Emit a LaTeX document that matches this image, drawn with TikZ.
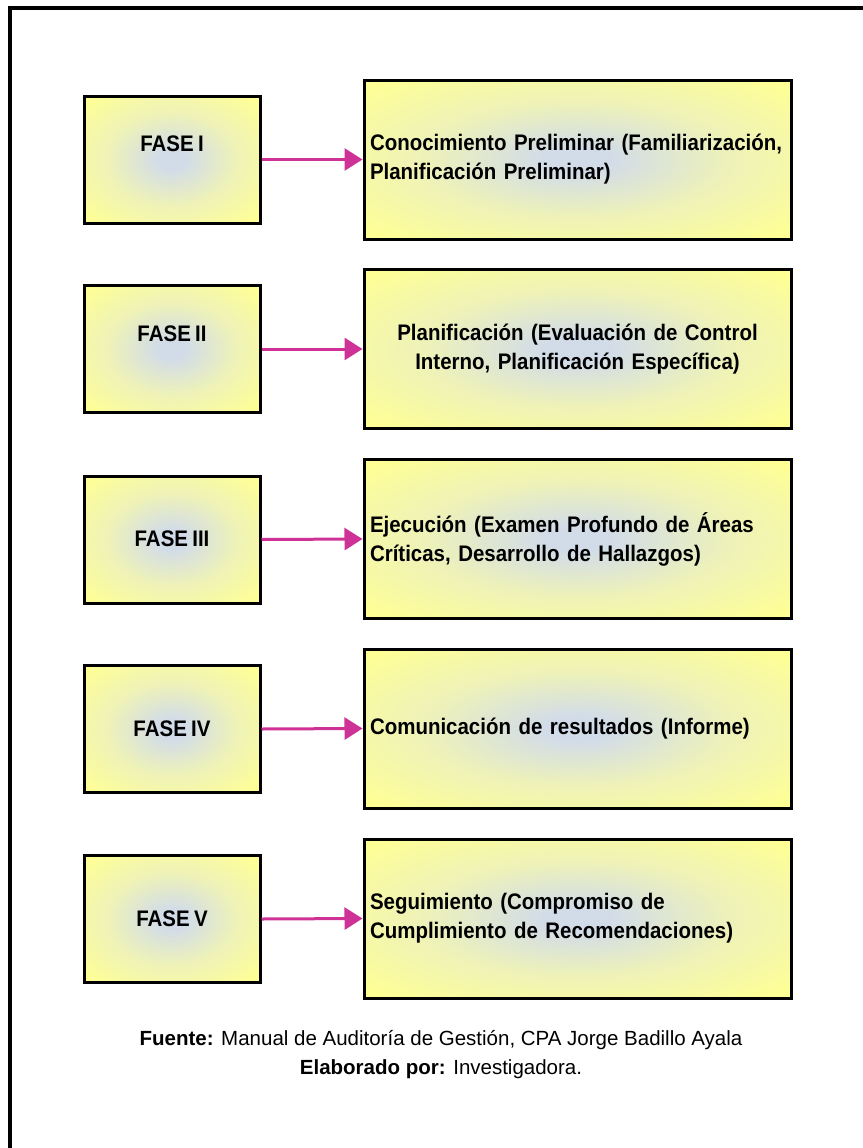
\documentclass[tikz,border=0pt]{standalone}
\usepackage{fontspec}
\setmainfont{Liberation Sans}
\newfontfamily\boxfont[FakeStretch=0.91, WordSpace=0.75]{Liberation Sans}
\usetikzlibrary{arrows.meta}

\definecolor{glowc}{RGB}{210,220,232}
\definecolor{glowm}{RGB}{238,242,184}
\definecolor{glowy}{RGB}{255,255,148}
\definecolor{linkcol}{RGB}{206,50,150}

% soft bluish centre fading to yellow towards the edges
\pgfdeclareradialshading{glow}{\pgfpoint{0bp}{0bp}}{%
  color(0bp)=(glowc); color(4bp)=(glowc); color(18bp)=(glowm);
  color(34bp)=(glowy); color(100bp)=(glowy)}

\tikzset{
  phasebox/.style={draw=black, line width=3pt, shade, shading=glow,
    minimum width=176pt, minimum height=127pt, inner sep=0pt},
  phaselabel/.style={font=\boxfont\bfseries\fontsize{22.5}{29}\selectfont, inner sep=0pt},
  stagebox/.style={draw=black, line width=3pt, shade, shading=glow,
    minimum width=427pt, minimum height=159pt, inner sep=0pt,
    text width=415pt, align=left,
    font=\boxfont\bfseries\fontsize{22.5}{29}\selectfont},
  link/.style={draw=linkcol, line width=3pt,
    -{Triangle[length=18pt, width=22pt]}},
  frameline/.style={line width=4pt, line join=miter},
}

\begin{document}
\begin{tikzpicture}[x=1pt, y=-1pt]
\useasboundingbox (0,0) rectangle (862,1148);

% outer frame (open to the right and below)
\draw[frameline] (10,1152) -- (10,8) -- (866,8);

% phase boxes
\node[phasebox] (p1) at (172,159.5) {};
\node[phasebox] (p2) at (172,349) {};
\node[phasebox] (p3) at (172,539.5) {};
\node[phasebox] (p4) at (172,729) {};
\node[phasebox] (p5) at (172,919) {};

\node[phaselabel] (l1) at (172,144) {FASE I};
\node[phaselabel] (l2) at (172,334) {FASE II};
\node[phaselabel] (l3) at (172,539) {FASE III};
\node[phaselabel] (l4) at (172,728.5) {FASE IV};
\node[phaselabel] (l5) at (172,918.5) {FASE V};

% stage descriptions
\node[stagebox] (s1) at (577.5,159.5)
  {Conocimiento Preliminar (Familiarización,\\Planificación Preliminar)};
\node[stagebox, align=center] (s2) at (577.5,349)
  {Planificación (Evaluación de Control\\Interno, Planificación Específica)};
\node[stagebox] (s3) at (577.5,539)
  {Ejecución (Examen Profundo de Áreas\\Críticas, Desarrollo de Hallazgos)};
\node[stagebox] (s4) at (577.5,728.5)
  {Comunicación de resultados (Informe)};
\node[stagebox] (s5) at (577.5,918.5)
  {Seguimiento (Compromiso de\\Cumplimiento de Recomendaciones)};

% connectors
\foreach \i in {1,...,5}
  \draw[link] (p\i.east) -- (s\i.west);

% source note
\node[align=center, inner sep=0pt, font=\fontsize{20.5}{29}\selectfont] (src) at (441,1055)
  {\textbf{Fuente:} Manual de Auditoría de Gestión, CPA Jorge Badillo Ayala\\
   \textbf{Elaborado por:} Investigadora.};
\end{tikzpicture}
\end{document}
